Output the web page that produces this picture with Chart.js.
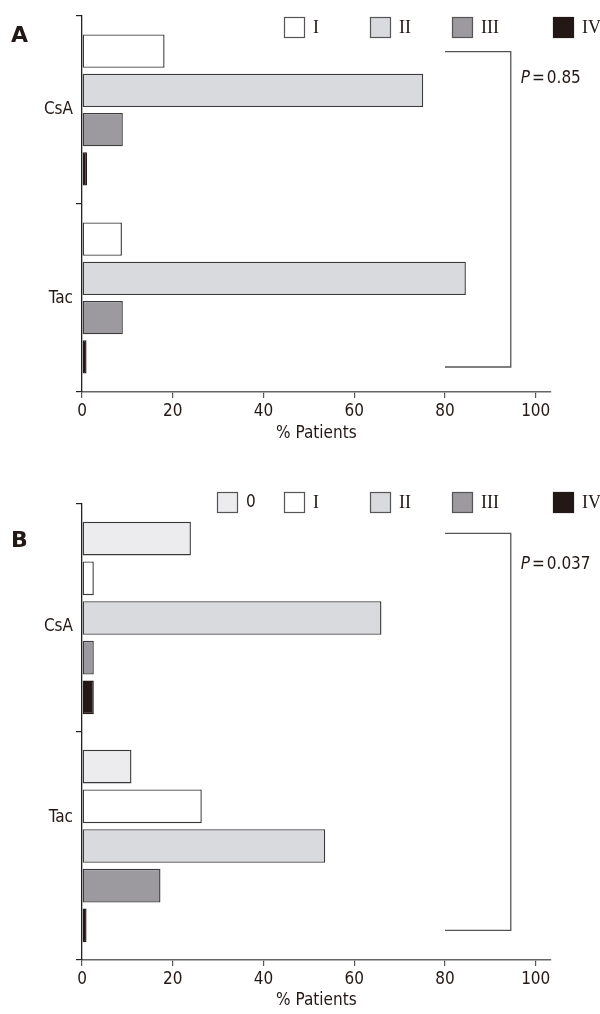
<!DOCTYPE html>
<html><head><meta charset="utf-8">
<script src="https://cdn.jsdelivr.net/npm/chart.js@4"></script>
<style>
html,body{margin:0;padding:0;background:#fff;}
#wrap{position:relative;width:600px;height:1014px;overflow:hidden;}
canvas{position:absolute;left:0;}
</style>
</head><body>
<div id="wrap">
<canvas id="ca" width="600" height="450" style="top:0px"></canvas>
<canvas id="cb" width="600" height="564" style="top:450px"></canvas>
</div>
<script>
// ---- data ----
const groups = ['CsA', 'Tac'];
const gradesA = ['I', 'II', 'III', 'IV'];
const gradesB = ['0', 'I', 'II', 'III', 'IV'];
// Panel A (% patients per grade, [CsA, Tac])
const aGradeI   = [18.2, 8.8];
const aGradeII  = [75.2, 84.6];
const aGradeIII = [9.0, 9.0];
const aGradeIV  = [1.1, 1.0];
// Panel B
const bGrade0   = [24.0, 10.9];
const bGradeI   = [2.6, 26.4];
const bGradeII  = [66.0, 53.6];
const bGradeIII = [2.6, 17.3];
const bGradeIV  = [2.6, 1.0];
const xTicks = [0, 20, 40, 60, 80, 100];
const pTexts = ['0.85', '0.037'];
const xTitle = '% Patients';

// ---- styles ----
const fills = {'0':'#ececee','I':'#ffffff','II':'#d9dadd','III':'#9d9a9f','IV':'#231815'};
const ink = '#231815';
const sansFam = '"DejaVu Sans Condensed", "DejaVu Sans", sans-serif';
const serifFam = '"Liberation Serif", "DejaVu Serif", serif';

const decor = {
  id: 'decor',
  afterDraw(chart) {
    const c = chart.options.plugins.decor;
    const ctx = chart.ctx;
    const xs = chart.scales.x, ys = chart.scales.y;
    ctx.save();
    // category labels
    ctx.fillStyle = ink;
    ctx.font = '17px ' + sansFam;
    ctx.textBaseline = 'middle';
    ctx.textAlign = 'right';
    chart.data.labels.forEach((lab, i) => {
      ctx.fillText(lab, 73, ys.getPixelForValue(i) + c.labelShift[i]);
    });
    // panel letter
    ctx.font = 'bold 22px "DejaVu Sans", sans-serif';
    ctx.textAlign = 'left';
    ctx.fillText(c.letter, 11, c.letterY);
    // legend
    chart.data.datasets.forEach((ds, i) => {
      const bx = c.legendX[i];
      ctx.fillStyle = ds.backgroundColor;
      ctx.fillRect(bx, c.legendY, 21, 21);
      ctx.lineWidth = 1.2;
      ctx.strokeStyle = ds.label === 'IV' ? ds.backgroundColor : '#555';
      ctx.strokeRect(bx + 0.5, c.legendY + 0.5, 20, 20);
      ctx.fillStyle = ink;
      if (ds.label === '0') ctx.font = '17px ' + sansFam; else ctx.font = '18px ' + serifFam;
      ctx.fillText(ds.label, bx + 29, c.legendY + 11);
    });
    // bracket
    const x1 = xs.getPixelForValue(80), x2 = xs.getPixelForValue(94.5);
    const y1 = ys.getPixelForValue(c.brTop), y2 = ys.getPixelForValue(c.brBot);
    ctx.strokeStyle = '#555';
    ctx.lineWidth = 1.3;
    ctx.beginPath();
    ctx.moveTo(x1, y1); ctx.lineTo(x2, y1); ctx.lineTo(x2, y2); ctx.lineTo(x1, y2);
    ctx.stroke();
    // P value
    ctx.fillStyle = ink;
    ctx.font = 'italic 17px ' + sansFam;
    let px = x2 + 10;
    ctx.fillText('P', px, c.pY);
    px += ctx.measureText('P').width + 2;
    ctx.font = '17px ' + sansFam;
    ctx.fillText('=', px, c.pY);
    px += ctx.measureText('=').width + 2;
    ctx.fillText(c.pText, px, c.pY);
    ctx.restore();
  }
};

function makeChart(id, grades, series, cfg) {
  return new Chart(document.getElementById(id), {
    type: 'bar',
    data: {
      labels: groups,
      datasets: grades.map((g, i) => ({
        label: g,
        data: series[i],
        backgroundColor: fills[g],
        borderColor: g === 'IV' ? fills[g] : '#3a3a3a',
        borderWidth: 1.4,
        borderSkipped: false,
        categoryPercentage: cfg.cat,
        barPercentage: 0.85
      }))
    },
    options: {
      indexAxis: 'y',
      responsive: false,
      animation: false,
      events: [],
      layout: { padding: { top: cfg.top, right: 49.3, left: 0, bottom: 0 } },
      plugins: {
        legend: { display: false },
        tooltip: { enabled: false },
        decor: cfg.decor
      },
      scales: {
        x: {
          type: 'linear', min: 0, max: 103.3,
          afterBuildTicks(s) { s.ticks = xTicks.map(v => ({ value: v })); },
          ticks: { font: { size: 17, family: sansFam }, color: ink, padding: 3, maxRotation: 0 },
          grid: { drawOnChartArea: false, drawTicks: true, tickLength: 6, color: '#555', lineWidth: 1.2 },
          border: { color: '#666', width: 1.4 },
          title: { display: true, text: xTitle, color: ink, font: { size: 17, family: sansFam }, padding: { top: 0, bottom: cfg.titlePad } },
          afterFit(s) { s.height = cfg.xh; }
        },
        y: {
          ticks: { display: false },
          grid: { drawOnChartArea: false, drawTicks: true, tickLength: 6, color: '#222', offset: true, lineWidth: 1.2 },
          border: { color: '#222', width: 1.3 },
          afterFit(s) { s.width = 82; }
        }
      }
    },
    plugins: [decor]
  });
}

makeChart('ca', gradesA, [aGradeI, aGradeII, aGradeIII, aGradeIV], {
  cat: 0.835, top: 16, xh: 58, titlePad: 6,
  decor: { letter: 'A', letterY: 36, legendY: 17, legendX: [284, 370, 452, 553],
           brTop: -0.31, brBot: 1.367, pY: 79, pText: pTexts[0], labelShift: [0, 1] }
});
makeChart('cb', gradesB, [bGrade0, bGradeI, bGradeII, bGradeIII, bGradeIV], {
  cat: 0.87, top: 54, xh: 54, titlePad: 3,
  decor: { letter: 'B', letterY: 91, legendY: 42, legendX: [217, 284, 370, 452, 553],
           brTop: -0.371, brBot: 1.37, pY: 115, pText: pTexts[1], labelShift: [9, -28] }
});
</script>
</body></html>
